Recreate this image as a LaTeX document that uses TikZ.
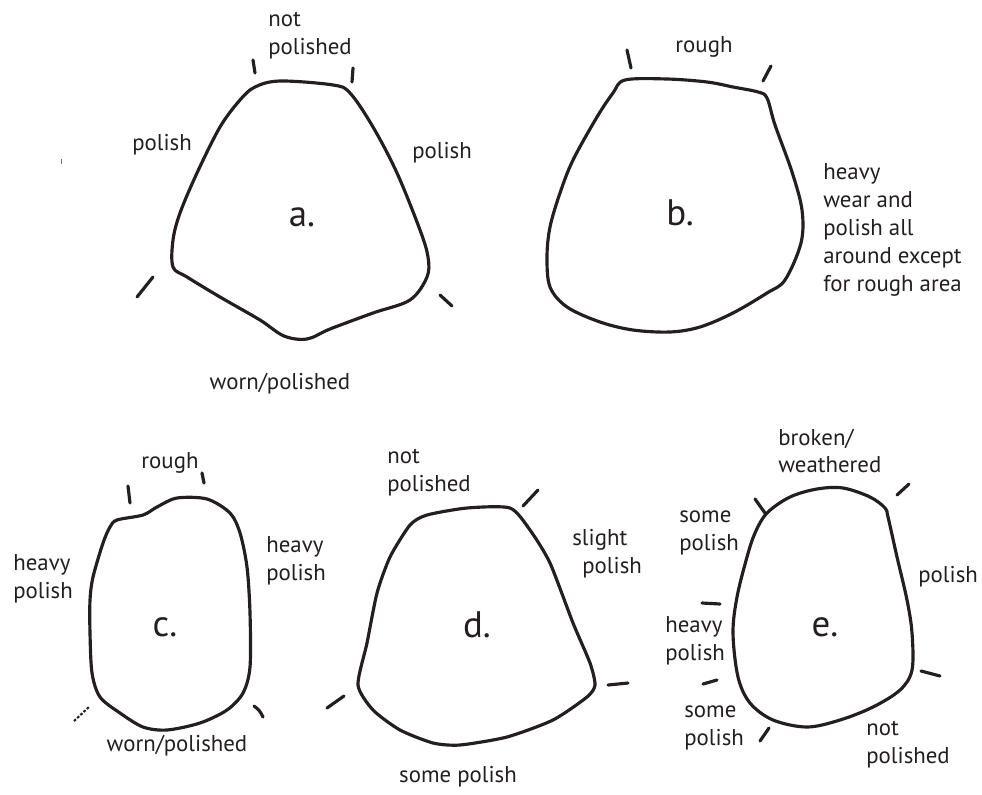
\documentclass[tikz,border=0pt]{standalone}
\usepackage{fontspec}
\setmainfont{PT Sans}
\begin{document}
\definecolor{ink}{HTML}{231F20}
\begin{tikzpicture}[x=0.02cm,y=-0.02cm,
  outline/.style={line width=1.8pt, line join=round, draw=ink},
  tickmark/.style={line width=1.8pt, line cap=round, draw=ink},
  lbl/.style={font=\fontsize{13}{15.9}\selectfont, align=left, inner sep=0pt, text=ink, anchor=west},
  tag/.style={font=\fontsize{21}{25}\selectfont, inner sep=0pt, text=ink}]
\useasboundingbox (0,0) rectangle (982,794);

% stray pencil speck
\draw[ink!60, line width=0.5pt] (61,159) -- (61,164);

% ---------- a. ----------
\draw[outline] plot[smooth cycle, tension=0.55] coordinates {
  (255,87) (280,81) (333,85) (350,93) (373,127) (397,173) (420,230) (428,257)
  (427,277) (410,300) (373,313) (330,329) (307,339) (284,336) (260,320)
  (220,297) (187,277) (173,267) (173,240) (180,213) (197,173) (220,127) (240,100)};
\draw[tickmark] (253,60) -- (255,73);
\draw[tickmark] (353,68) -- (352,82);
\draw[tickmark] (153,277) -- (137,297);
\draw[tickmark] (440,295) -- (452,306);
\node[tag] (la) at (302,217) {a.};
\node[lbl] (a1) at (268,36) {not\\polished};
\node[lbl] (a2) at (132,145) {polish};
\node[lbl] (a3) at (412,153) {polish};
\node[lbl, anchor=center] (a4) at (280,384) {worn/polished};

% ---------- b. ----------
\draw[outline] plot[smooth cycle, tension=0.55] coordinates {
  (625,80) (667,79) (707,82) (733,87) (758,92) (767,98) (775,125)
  (792,172) (802,210) (801,243) (785,280) (767,293) (733,313)
  (700,327) (670,332) (633,330) (600,322) (567,307) (550,287) (547,257)
  (550,227) (560,193) (573,160) (597,117) (613,93)};
\draw[tickmark] (627,50) -- (631,68);
\draw[tickmark] (771,66) -- (763,81);
\node[tag] (lb) at (680,213) {b.};
\node[lbl, anchor=center] (b1) at (704,47) {rough};
\node[lbl] (b2) at (823,230) {heavy\\wear and\\polish all\\around except\\for rough area};

% ---------- c. ----------
\draw[outline] plot[smooth cycle, tension=0.5] coordinates {
  (117,520) (143,515) (157,507) (177,498) (207,499) (230,513) (240,533)
  (247,567) (250,613) (250,667) (243,693) (227,710) (200,723) (167,730)
  (143,727) (120,713) (100,697) (92,673) (90,633) (90,600) (93,577)
  (103,543) (110,527)};
\draw[tickmark] (128,486) -- (130,503);
\draw[tickmark] (202,473) -- (204,483);
\draw[tickmark, line width=1.2pt, dash pattern=on 1.5pt off 1pt, line cap=butt] (74,721) -- (89,707);
\draw[tickmark] (254,706) to[bend left=15] (263,717);
\node[tag] (lc) at (165,627) {c.};
\node[lbl, anchor=center] (c1) at (170,463) {rough};
\node[lbl] (c2) at (13,579) {heavy\\polish};
\node[lbl] (c3) at (266,561) {heavy\\polish};
\node[lbl, anchor=center] (c4) at (177,746) {worn/polished};

% ---------- d. ----------
\draw[outline] plot[smooth cycle, tension=0.4] coordinates {
  (427,515) (467,508) (510,508) (530,530) (550,563) (573,623) (590,663)
  (595,685) (587,697) (553,720) (507,737) (460,745) (433,743) (400,730)
  (373,710) (358,685) (367,643) (377,593) (390,557) (410,525)};
\draw[tickmark] (523,506) -- (538,490);
\draw[tickmark] (608,685) -- (628,683);
\draw[tickmark] (327,708) -- (344,696);
\node[tag] (ld) at (477,625) {d.};
\node[lbl] (d1) at (387,473) {not\\polished};
\node[lbl] (d2) at (572,540) {slight};
\node[lbl] (d3) at (582,568) {polish};
\node[lbl, anchor=center] (d4) at (458,777) {some polish};

% ---------- e. ----------
\draw[outline] plot[smooth cycle, tension=0.55] coordinates {
  (767,513) (790,497) (817,489) (843,488) (870,497) (885,508) (888,517)
  (897,557) (907,600) (912,633) (912,670) (900,690) (873,707) (840,720)
  (807,727) (773,720) (750,703) (738,677) (733,633) (737,597) (747,557)
  (755,533)};
\draw[tickmark] (755,499) -- (765,513);
\draw[tickmark] (897,495) -- (909,484);
\draw[tickmark] (702,603) -- (720,604);
\draw[tickmark] (703,684) -- (717,680);
\draw[tickmark] (760,741) -- (769,728);
\draw[tickmark] (921,671) -- (940,676);
\node[tag] (le) at (825,627) {e.};
\node[lbl] (e1) at (778,451) {broken/\\weathered};
\node[lbl] (e2) at (679,533) {some\\polish};
\node[lbl] (e3) at (918,577) {polish};
\node[lbl] (e4) at (665,641) {heavy\\polish};
\node[lbl] (e5) at (684,728) {some\\polish};
\node[lbl] (e6) at (866,745) {not\\polished};
\end{tikzpicture}
\end{document}
